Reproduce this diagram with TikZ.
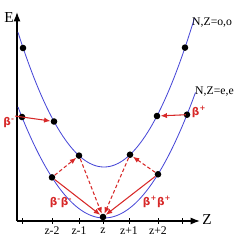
\documentclass[tikz,border=0pt]{standalone}
\usepackage{fontspec}
\setmainfont{Liberation Serif}
\newfontfamily\betafont{DejaVu Sans}
\usetikzlibrary{arrows.meta}
\definecolor{CurveBlue}{RGB}{70,70,215}
\definecolor{DecayRed}{RGB}{215,40,40}

\begin{document}
\begin{tikzpicture}[x=0.03cm,y=-0.03cm,>=Latex,
    dot/.style={circle,fill=black,inner sep=0pt,minimum size=5.6pt},
    curve/.style={CurveBlue,line width=0.7pt},
    decay/.style={DecayRed,line width=0.9pt,-{Latex[length=5.5pt,width=4.5pt]}},
    hop/.style={decay,dash pattern=on 3pt off 2pt},
    betalabel/.style={DecayRed,font=\betafont\bfseries\fontsize{9}{11}\selectfont,inner sep=0pt},
    ticklabel/.style={font=\fontsize{10}{12}\selectfont,inner sep=0pt}]
  \useasboundingbox (0,0) rectangle (244,245);
  \draw[line width=1.1pt,->] (17,221)--(200,221);
  \draw[line width=1.1pt,->] (17,221)--(17,12);
  \node[font=\fontsize{13}{15}\selectfont] (Elabel) at (9,18) {E};
  \node[font=\fontsize{13}{15}\selectfont] (Zlabel) at (207,220) {Z};
  \foreach \x in {22,52,79,103,129,158,182}
    \draw[line width=0.6pt] (\x,218)--(\x,224);
  \foreach \x/\t in {52/z-2,79/z-1,103/z,129/z+1,158/z+2}
    \node[ticklabel] (t\x) at (\x,231) {\t};
  \draw[curve,domain=18:194.5,samples=80] plot (\x,{167-0.0182*(\x-104)^2});
  \draw[curve,domain=18:195.5,samples=80] plot (\x,{218-0.015*(\x-104)^2});
  \node[ticklabel,anchor=west] (oo) at (192,23) {N,Z=o,o};
  \node[ticklabel,anchor=west] (ee) at (195,92) {N,Z=e,e};
  \node[dot] (o1) at (23,48) {};
  \node[dot] (o2) at (54,121.5) {};
  \node[dot] (o3) at (79,155.6) {};
  \node[dot] (o4) at (130,154.7) {};
  \node[dot] (o5) at (157,116) {};
  \node[dot] (o6) at (185,47.6) {};
  \node[dot] (e1) at (22,117) {};
  \node[dot] (e2) at (52,177.4) {};
  \node[dot] (e3) at (103,217) {};
  \node[dot] (e4) at (158,174.3) {};
  \node[dot] (e5) at (187,114.7) {};
  \draw[decay,shorten <=-9pt] (e1)--(o2);
  \draw[decay,shorten <=-2pt] (e5)--(o5);
  \draw[hop] (e2)--(o3);
  \draw[hop] (o3)--(e3);
  \draw[hop] (e4)--(o4);
  \draw[hop] (o4)--(e3);
  \draw[decay] (e2)--(e3);
  \draw[decay] (e4)--(e3);
  \node[betalabel] (bm) at (9,123) {β\textsuperscript{-}};
  \node[betalabel] (bp) at (199,112) {β\textsuperscript{+}};
  \node[betalabel] (bmbm) at (61,203) {β\textsuperscript{-}β\textsuperscript{-}};
  \node[betalabel] (bpbp) at (157,202) {β\textsuperscript{+}β\textsuperscript{+}};
\end{tikzpicture}
\end{document}
